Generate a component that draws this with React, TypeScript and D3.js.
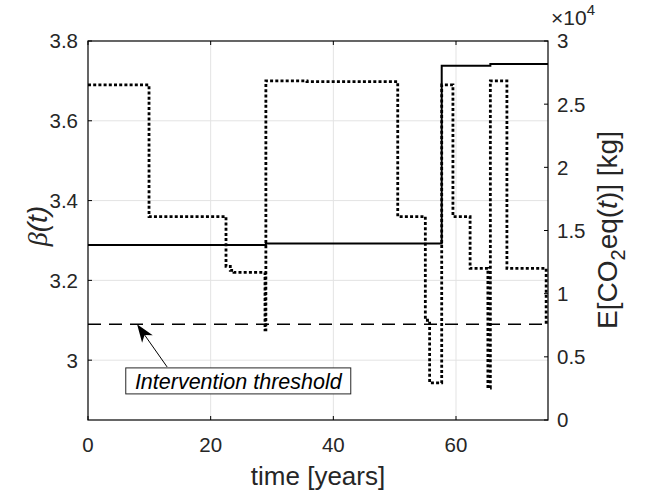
import React from "react";
import * as d3 from "d3";

// ---- data ----
const betaT = [0, 9.95, 22.5, 23.2, 23.8, 28.86, 29.0, 35.7, 50.5, 55.0, 55.7, 57.67, 59.5, 62.3, 65.2, 65.6, 68.3, 74.7, 75];
const betaV = [3.69, 3.36, 3.235, 3.225, 3.22, 3.076, 3.70, 3.698, 3.36, 3.10, 2.943, 3.69, 3.36, 3.23, 2.93, 3.70, 3.23, 3.095, 3.095];
const co2T = [0, 29.0, 57.67, 65.6, 75];
const co2V = [13850, 13970, 28050, 28180, 28180];
const threshold = 3.09;
const xTicks = [0, 20, 40, 60];
const yLTicks = [3, 3.2, 3.4, 3.6, 3.8];
const yRTicks = [0, 5000, 10000, 15000, 20000, 25000, 30000];
const yRLabels = ["0", "0.5", "1", "1.5", "2", "2.5", "3"];
const annText = "Intervention threshold";
const annTip = { t: 8.0, b: 3.09 };
const annTail = { t: 12.9, b: 2.983 };
const annBox = { t: 24.5, b: 2.948 };

const W = 655, H = 493;
const L = 88, R = 548, T = 41, B = 420;
const font = "'Liberation Sans', Arial, sans-serif";

export default function App() {
  const x = d3.scaleLinear().domain([0, 75]).range([L, R]);
  const yL = d3.scaleLinear().domain([2.85, 3.8]).range([B, T]);
  const yR = d3.scaleLinear().domain([0, 30000]).range([B, T]);

  const betaLine = d3.line<number>().x((_, i) => x(betaT[i])).y((v) => yL(v)).curve(d3.curveStepAfter);
  const co2Line = d3.line<number>().x((_, i) => x(co2T[i])).y((v) => yR(v)).curve(d3.curveStepAfter);

  const tipX = x(annTip.t), tipY = yL(annTip.b);
  const tailX = x(annTail.t), tailY = yL(annTail.b);
  const ang = Math.atan2(tailY - tipY, tailX - tipX);
  const hl = 18, hw = 6.5, ind = 13;
  const ux = Math.cos(ang), uy = Math.sin(ang);
  const px = -uy, py = ux;
  const head = [
    [tipX, tipY],
    [tipX + ux * hl + px * hw, tipY + uy * hl + py * hw],
    [tipX + ux * ind, tipY + uy * ind],
    [tipX + ux * hl - px * hw, tipY + uy * hl - py * hw],
  ].map((p) => p.join(",")).join(" ");

  const bx = x(annBox.t), by = yL(annBox.b);
  const boxW = 225, boxH = 26;

  return (
    <svg width={W} height={H} style={{ position: "absolute", left: 0, top: 0, background: "#fff" }} fontFamily={font}>
      <rect x={0} y={0} width={W} height={H} fill="#fff" />
      {/* grid */}
      {xTicks.filter((t) => t > 0).map((t) => (
        <line key={"gx" + t} x1={x(t)} x2={x(t)} y1={T} y2={B} stroke="#e3e3e3" strokeWidth={1} />
      ))}
      {yLTicks.filter((t) => t < 3.8).map((t) => (
        <line key={"gy" + t} x1={L} x2={R} y1={yL(t)} y2={yL(t)} stroke="#e3e3e3" strokeWidth={1} />
      ))}
      {/* threshold */}
      <line x1={L} x2={R} y1={yL(threshold)} y2={yL(threshold)} stroke="#000" strokeWidth={1.5} strokeDasharray="13,8" />
      {/* series */}
      <path d={co2Line(co2V) || ""} fill="none" stroke="#000" strokeWidth={2} />
      <path d={betaLine(betaV) || ""} fill="none" stroke="#000" strokeWidth={2.8} strokeDasharray="3,2.2" />
      {/* axes box */}
      <rect x={L} y={T} width={R - L} height={B - T} fill="none" stroke="#000" strokeWidth={1.2} />
      {/* x ticks */}
      {xTicks.map((t) => (
        <g key={"xt" + t}>
          <line x1={x(t)} x2={x(t)} y1={B} y2={B - 4} stroke="#000" />
          <line x1={x(t)} x2={x(t)} y1={T} y2={T + 4} stroke="#000" />
          <text x={x(t)} y={452} textAnchor="middle" fontSize={20.5} fill="#262626">{t}</text>
        </g>
      ))}
      {yLTicks.map((t) => (
        <g key={"yl" + t}>
          <line x1={L} x2={L + 4} y1={yL(t)} y2={yL(t)} stroke="#000" />
          <text x={78} y={yL(t)} dy="0.36em" textAnchor="end" fontSize={20.5} fill="#262626">{t === 3 ? "3" : t.toFixed(1)}</text>
        </g>
      ))}
      {yRTicks.map((t, i) => (
        <g key={"yr" + t}>
          <line x1={R} x2={R - 4} y1={yR(t)} y2={yR(t)} stroke="#000" />
          <text x={557} y={yR(t)} dy="0.36em" textAnchor="start" fontSize={20.5} fill="#262626">{yRLabels[i]}</text>
        </g>
      ))}
      {/* exponent */}
      <text x={551} y={25} fontSize={21} fill="#262626">
        ×10<tspan dy={-10} fontSize={15}>4</tspan>
      </text>
      {/* axis labels */}
      <text x={(L + R) / 2} y={485} textAnchor="middle" fontSize={26} fill="#262626">time [years]</text>
      <text transform={`translate(47,226) rotate(-90)`} textAnchor="middle" fontSize={28} fill="#262626">
        <tspan fontFamily="'Liberation Serif', serif" fontStyle="italic">β</tspan>
        <tspan fontStyle="italic">(t)</tspan>
      </text>
      <text transform={`translate(617,230) rotate(-90)`} textAnchor="middle" fontSize={28} fill="#262626">
        E[CO<tspan dy={8} fontSize={20}>2</tspan><tspan dy={-8}>eq(</tspan><tspan fontStyle="italic">t</tspan>)] [kg]
      </text>
      {/* annotation */}
      <line x1={tailX} y1={tailY} x2={tipX + ux * ind} y2={tipY + uy * ind} stroke="#000" strokeWidth={1} />
      <polygon points={head} fill="#000" />
      <rect x={bx - boxW / 2} y={by - boxH / 2} width={boxW} height={boxH} fill="#fff" stroke="#262626" strokeWidth={1} />
      <text x={bx} y={by} dy="0.36em" textAnchor="middle" fontSize={21.5} fontStyle="italic" fill="#000">{annText}</text>
    </svg>
  );
}
